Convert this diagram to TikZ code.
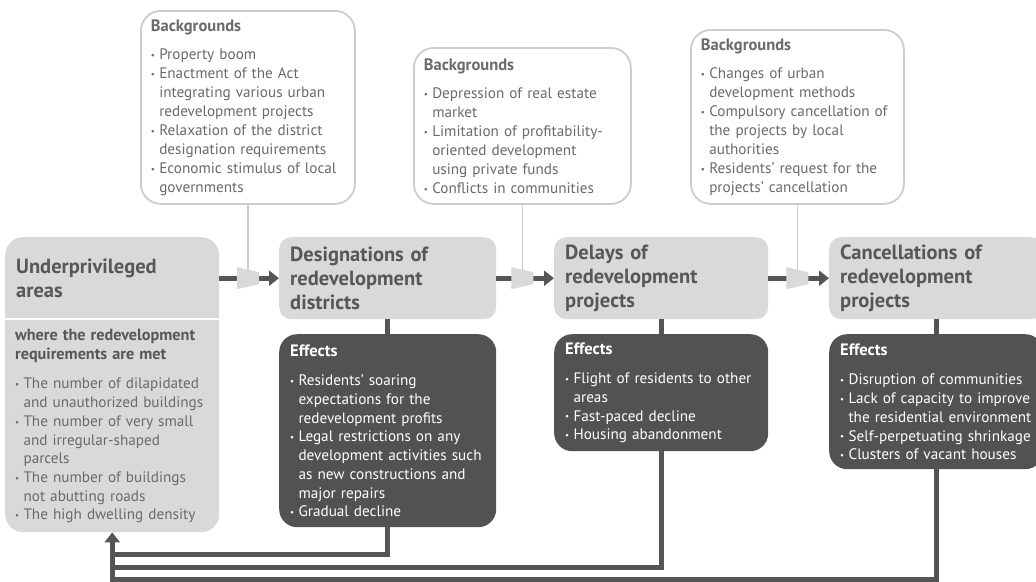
\documentclass[tikz,border=0pt]{standalone}
\usepackage{fontspec}
\setmainfont{PT Sans}
\usetikzlibrary{arrows.meta,calc}

\definecolor{boxgray}{HTML}{D9D9D9}
\definecolor{effgray}{HTML}{525252}
\definecolor{titletxt}{HTML}{575757}
\definecolor{bodytxt}{HTML}{6A6A6A}
\definecolor{bgline}{HTML}{CDCDCD}
\definecolor{linkgray}{HTML}{555555}

% one bullet, its lines kept as typed, later lines hang under the text
\def\bline{\egroup\newline\hbox\bgroup\let\\\bline}
\newcommand{\bitem}[1]{\par\noindent\hangindent=0.55em\hangafter=1%
  \makebox[0.55em][l]{\raisebox{0.15ex}{\fontsize{9}{9}\selectfont\textbullet}}%
  \hbox\bgroup\let\\\bline#1\egroup\par}
\newcommand{\bhead}[2][9pt]{{\fontsize{16.5}{19}\selectfont\bfseries #2}\par\vspace{#1}}

\begin{document}
\begin{tikzpicture}[x=1pt,y=1pt,yscale=-1,
  bgbox/.style={draw=bgline, line width=1.8pt, fill=white, rounded corners=20pt,
    inner xsep=10pt, inner ysep=2pt, align=left, text=bodytxt,
    font=\fontsize{15.2}{19}\selectfont, anchor=north west},
  titlebox/.style={fill=boxgray, rounded corners=12pt, minimum height=82pt,
    inner xsep=11pt, align=left, text=titletxt,
    font=\fontsize{20.5}{24}\selectfont\bfseries, anchor=north west},
  effbox/.style={fill=effgray, rounded corners=18pt, inner xsep=11pt, inner ysep=2pt,
    align=left, text=white, font=\fontsize{15.2}{18.7}\selectfont, anchor=north west},
  link/.style={draw=linkgray, line width=5pt},
  tip/.style={-{Triangle[length=10pt,width=15pt]}},
  bglink/.style={draw=bgline, line width=1.8pt},
  funnel/.style={fill=boxgray}
]
\useasboundingbox (0,0) rectangle (1036,581);

% Backgrounds
\node (bgone) [bgbox, text width=194pt, minimum height=193pt] at (140,10) {%
  \bhead{Backgrounds}%
  \bitem{Property boom}
  \bitem{Enactment of the Act\\integrating various urban\\redevelopment projects}
  \bitem{Relaxation of the district\\designation requirements}
  \bitem{Economic stimulus of local\\governments}};
\node (bgtwo) [bgbox, text width=197pt, minimum height=156pt] at (413,47) {%
  \bhead{Backgrounds}%
  \bitem{Depression of real estate\\market}
  \bitem{Limitation of profitability-\\oriented development\\using private funds}
  \bitem{Conflicts in communities}};
\node (bgthree) [bgbox, text width=193pt, minimum height=174pt] at (690,29) {%
  \bhead{Backgrounds}%
  \bitem{Changes of urban\\development methods}
  \bitem{Compulsory cancellation of\\the projects by local\\authorities}
  \bitem{Residents' request for the\\projects' cancellation}};

% Underprivileged areas
\node (under) [fill=boxgray, rounded corners=18pt, minimum width=214pt,
  minimum height=295pt, inner sep=0pt, anchor=north west] at (5,237) {};
\node (undertitle) [titlebox, fill=none, text width=192pt] at (5,237) {Underprivileged\\areas};
\draw [white, line width=2pt] (undertitle.south west) -- (undertitle.south east);
\node (underlist) [anchor=north west, inner xsep=10pt, inner ysep=0pt, text width=194pt,
  minimum height=213pt, align=left, text=bodytxt,
  font=\fontsize{15.2}{18.7}\selectfont] at (undertitle.south west) {%
  {\fontsize{16.2}{18.7}\selectfont\bfseries\color{titletxt}where the redevelopment\\requirements are met}\par\vspace{11pt}%
  \bitem{The number of dilapidated\\and unauthorized buildings}
  \bitem{The number of very small\\and irregular-shaped\\parcels}
  \bitem{The number of buildings\\not abutting roads}
  \bitem{The high dwelling density}};

% Stages
\node (desig) [titlebox, text width=195pt] at (279,237) {Designations of\\redevelopment\\districts};
\node (delay) [titlebox, text width=192pt] at (554,237) {Delays of\\redevelopment\\projects};
\node (cancel) [titlebox, text width=192pt] at (829,237) {Cancellations of\\redevelopment\\projects};

% Effects
\node (deff) [effbox, text width=195pt, minimum height=193pt] at (279,334) {%
  \bhead[11pt]{Effects}%
  \bitem{Residents' soaring\\expectations for the\\redevelopment profits}
  \bitem{Legal restrictions on any\\development activities such\\as new constructions and\\major repairs}
  \bitem{Gradual decline}};
\node (delff) [effbox, text width=192pt, minimum height=117pt] at (554,334) {%
  \bhead[11pt]{Effects}%
  \bitem{Flight of residents to other\\areas}
  \bitem{Fast-paced decline}
  \bitem{Housing abandonment}};
\node (ceff) [effbox, text width=192pt, minimum height=135pt] at (829,334) {%
  \bhead[11pt]{Effects}%
  \bitem{Disruption of communities}
  \bitem{Lack of capacity to improve\\the residential environment}
  \bitem{Self-perpetuating shrinkage}
  \bitem{Clusters of vacant houses}};

%Straight Lines
\draw [link, tip] (undertitle.east) -- (desig.west);
\draw [link, tip] (desig.east) -- (delay.west);
\draw [link, tip] (delay.east) -- (cancel.west);
\draw [link] (desig.south) -- (deff.north);
\draw [link] (delay.south) -- (delff.north);
\draw [link] (cancel.south) -- (ceff.north);

% backgrounds feed into the arrows
\coordinate (fa) at (bgone.south |- desig.west);
\coordinate (fb) at (bgtwo.south |- delay.west);
\coordinate (fc) at (bgthree.south |- cancel.west);
\foreach \f/\b in {fa/bgone, fb/bgtwo, fc/bgthree} {
  \draw [bglink] (\b.south) -- (\f);
  \fill [funnel] ($(\f)+(-11,-11)$) -- ($(\f)+(11,-6)$) -- ($(\f)+(11,6)$)
    -- ($(\f)+(-11,11)$) -- cycle;
}

% feedback to the underprivileged areas
\coordinate (backa) at (under.south |- 0,554);
\coordinate (backb) at (under.south |- 0,567);
\coordinate (backc) at (under.south |- 0,579);
\draw [link] (deff.south) |- (backa);
\draw [link] (delff.south) |- (backb);
\draw [link, tip] (ceff.south) |- (backc) -- (under.south);

\end{tikzpicture}
\end{document}
